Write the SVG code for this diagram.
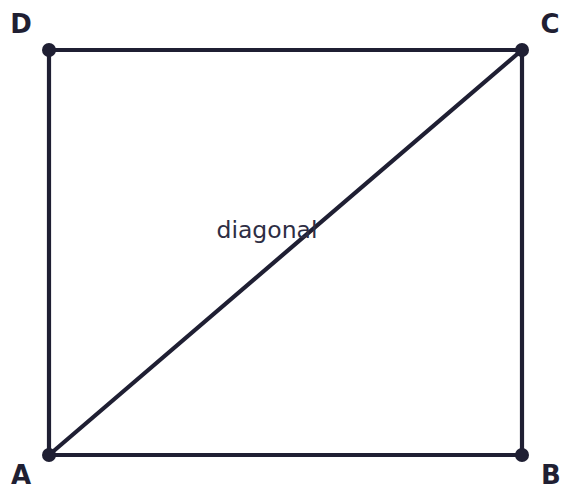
<svg xmlns="http://www.w3.org/2000/svg" width="561" height="487" viewBox="0 0 561 487">
<style>
.edge{stroke:#1f1f33;stroke-width:4.2;fill:none;stroke-linecap:round}
.pt{fill:#1f1f33}
.lbl{font-family:"DejaVu Sans",sans-serif;font-weight:bold;font-size:26px;fill:#1f1f33;text-anchor:middle}
.dl{font-family:"DejaVu Sans",sans-serif;font-size:23.5px;fill:#2e2e44;text-anchor:middle}
</style>
<rect width="561" height="487" fill="#ffffff"/>
<g id="connectors">
<line class="edge" x1="49" y1="50" x2="522" y2="50"/>
<line class="edge" x1="522" y1="50" x2="522" y2="455"/>
<line class="edge" x1="522" y1="455" x2="49" y2="455"/>
<line class="edge" x1="49" y1="455" x2="49" y2="50"/>
<line class="edge" x1="49" y1="455" x2="522" y2="50"/>
<text class="dl" x="267" y="238">diagonal</text>
</g>
<g id="A"><circle class="pt" cx="49" cy="455" r="7"/><text class="lbl" x="21" y="484">A</text></g>
<g id="B"><circle class="pt" cx="522" cy="455" r="7"/><text class="lbl" x="551" y="484">B</text></g>
<g id="C"><circle class="pt" cx="522" cy="50" r="7"/><text class="lbl" x="550" y="33">C</text></g>
<g id="D"><circle class="pt" cx="49" cy="50" r="7"/><text class="lbl" x="21" y="33">D</text></g>
</svg>
